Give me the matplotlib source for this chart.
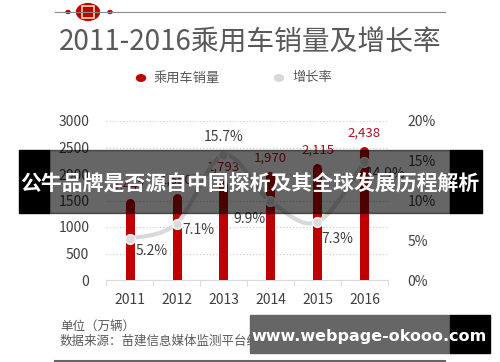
import numpy as np
import matplotlib
matplotlib.use("Agg")
import matplotlib.pyplot as plt
from matplotlib.path import Path
from matplotlib.patches import PathPatch, Circle, Rectangle
from matplotlib.lines import Line2D

plt.rcParams['font.family'] = ['Noto Sans CJK SC', 'DejaVu Sans']

years = ["2011", "2012", "2013", "2014", "2015", "2016"]
sales = [1447, 1550, 1793, 1970, 2115, 2438]
growth = [5.2, 7.1, 15.7, 9.9, 7.3, 14.9]
sales_ticks = [0, 500, 1000, 1500, 2000, 2500, 3000]
growth_ticks = [0, 5, 10, 15, 20]

RED = "#c00000"
TEXT = "#404040"
W, H = 500, 362

fig = plt.figure(figsize=(5, 3.62), dpi=100)
fig.patch.set_facecolor("white")

ax = fig.add_axes([106 / W, 1 - 280 / H, 282 / W, 159 / H])
x = np.arange(len(years))

# bars as thick rounded lines
ax.vlines(x, 0, sales, color=RED, linewidth=6.5, capstyle='round', zorder=3)
for xi, v in zip(x, sales):
    ax.annotate(f"{v:,}", (xi, v), xytext=(0, 8), textcoords="offset points",
                ha="center", va="bottom", color="#b01020", fontsize=9.5)

ax.set_xlim(-0.5, len(years) - 0.5)
ax.set_ylim(0, 3000)
ax.set_yticks(sales_ticks)
ax.set_xticks(x)
ax.set_xticklabels(years)
ax.set_xticks(np.arange(len(years) + 1) - 0.5, minor=True)
ax.tick_params(axis="x", which="major", length=0, pad=9, labelsize=10, labelcolor=TEXT)
ax.tick_params(axis="x", which="minor", length=4, color="#d9d9d9", direction="out")
ax.tick_params(axis="y", length=0, pad=12, labelsize=10, labelcolor=TEXT)
for s in ["top", "right", "left"]:
    ax.spines[s].set_visible(False)
ax.spines["bottom"].set_color("#d9d9d9")
ax.grid(axis="y", linestyle=(0, (1, 2)), color="#c8c8c8", linewidth=0.8, zorder=0)
ax.set_axisbelow(True)

ax2 = ax.twinx()
ax2.set_ylim(0, 20)
ax2.set_yticks(growth_ticks)
ax2.set_yticklabels([f"{t}%" for t in growth_ticks])
ax2.tick_params(axis="y", length=0, pad=14, labelsize=10, labelcolor=TEXT)
for s in ax2.spines.values():
    s.set_visible(False)

# smooth growth line (Catmull-Rom as cubic bezier through the data points)
px = list(x.astype(float))
py = list(growth)
verts = [(px[0], py[0])]
codes = [Path.MOVETO]
for i in range(len(px) - 1):
    p0 = (px[max(i - 1, 0)], py[max(i - 1, 0)])
    p1 = (px[i], py[i])
    p2 = (px[i + 1], py[i + 1])
    p3 = (px[min(i + 2, len(px) - 1)], py[min(i + 2, len(px) - 1)])
    c1 = (p1[0] + (p2[0] - p0[0]) / 6, p1[1] + (p2[1] - p0[1]) / 6)
    c2 = (p2[0] - (p3[0] - p1[0]) / 6, p2[1] - (p3[1] - p1[1]) / 6)
    verts += [c1, c2, p2]
    codes += [Path.CURVE4] * 3
ax2.add_patch(PathPatch(Path(verts, codes), facecolor="none", edgecolor="#d9d9d9",
                        linewidth=3, zorder=4))
ax2.plot(x, growth, linestyle="none", marker="o", markersize=7,
         markerfacecolor="#dcdcdc", markeredgecolor="white", markeredgewidth=1, zorder=5)

offsets = [(16, -9), (16, -5), (0, 13), (-15, -13), (14, -12), (15, -9)]
for xi, g, off in zip(x, growth, offsets):
    ax2.annotate(f"{g}%", (xi, g), xytext=off, textcoords="offset points",
                 ha="center", va="center", color=TEXT, fontsize=10, zorder=6)

# header decoration
fig.add_artist(Line2D([55 / W, 445 / W], [1 - 12 / H] * 2, color="#8a8a8a", linewidth=0.8))
for dx in [68, 110]:
    fig.add_artist(Circle((dx / W, 1 - 12 / H), 2 / W, color=RED,
                          transform=fig.transFigure))
fig.add_artist(Circle((88 / W, 1 - 12 / H), 11.5 / W, color=RED,
                      transform=fig.transFigure))
fig.add_artist(Rectangle((82 / W, 1 - 18 / H), 12 / W, 12 / H, fill=False,
                         edgecolor="#f3d9a0", linewidth=1.2, transform=fig.transFigure))

fig.text(250 / W, 1 - 43 / H, "2011-2016乘用车销量及增长率", ha="center", va="center",
         fontsize=20, color="#595959")

# legend
fig.add_artist(Circle((141 / W, 1 - 78 / H), 4.5 / W, color=RED, transform=fig.transFigure))
fig.text(154 / W, 1 - 78 / H, "乘用车销量", ha="left", va="center", fontsize=9.5, color="#595959")
fig.add_artist(Circle((279 / W, 1 - 78 / H), 4.5 / W, color="#d9d9d9", transform=fig.transFigure))
fig.text(292 / W, 1 - 78 / H, "增长率", ha="left", va="center", fontsize=9.5, color="#595959")

# footer
fig.text(60 / W, 1 - 326 / H, "单位（万辆）", ha="left", va="center", fontsize=9, color="#595959")
fig.text(60 / W, 1 - 341 / H, "数据来源：苗建信息媒体监测平台统计", ha="left", va="center",
         fontsize=9, color="#595959")
fig.add_artist(Line2D([55 / W, 445 / W], [1 - 361 / H] * 2, color="#666666", linewidth=1.5))

# overlay banner
fig.add_artist(Rectangle((49 / W, 1 - 213 / H), 401 / W, 63 / H, color="black", alpha=0.6,
                         transform=fig.transFigure, zorder=10))
fig.add_artist(Rectangle((19 / W, 1 - 213 / H), 30 / W, 63 / H, color="black",
                         transform=fig.transFigure, zorder=10))
fig.add_artist(Rectangle((450 / W, 1 - 213 / H), 32 / W, 63 / H, color="black",
                         transform=fig.transFigure, zorder=10))
fig.text(250 / W, 1 - 184 / H, "公牛品牌是否源自中国探析及其全球发展历程解析", ha="center",
         va="center", fontsize=15, fontweight="bold", color="white", zorder=11)

# watermark
fig.add_artist(Rectangle((250 / W, 1 - 353 / H), 200 / W, 38 / H, color="#666666",
                         transform=fig.transFigure, zorder=10))
fig.add_artist(Rectangle((450 / W, 1 - 353 / H), 40 / W, 38 / H, color="black",
                         transform=fig.transFigure, zorder=10))
fig.text(369 / W, 1 - 336 / H, "www.webpage-okooo.com", ha="center", va="center",
         fontsize=11.5, fontweight="bold", color="white", family="DejaVu Sans", zorder=11)

fig.savefig("out.png", dpi=100, facecolor="white")
